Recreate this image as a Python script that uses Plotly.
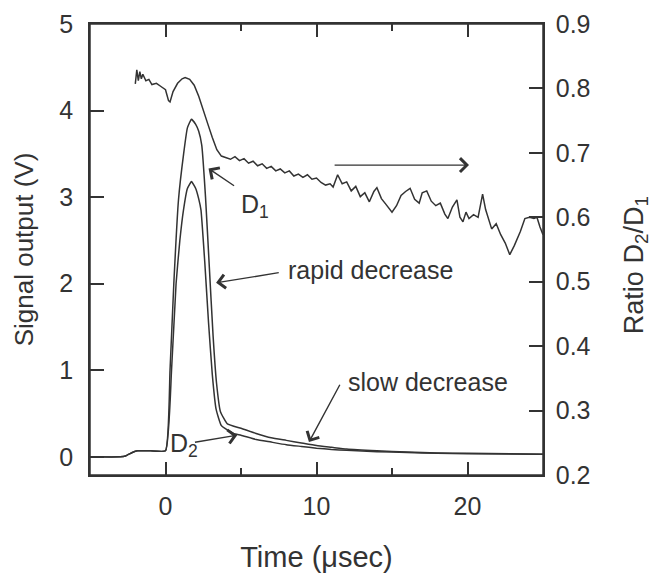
import plotly.graph_objects as go

# signal traces (left axis, volts)
t_d1 = [-5, -3.0, -2.65, -2.2, -1.85, -1.0, 0.0, 0.3, 0.55, 0.86, 1.2, 1.45, 1.72,
        2.0, 2.2, 2.4, 2.65, 2.9, 3.15, 3.38, 3.64, 4.1, 5.0, 6.0, 7.0, 8.0, 9.0, 10, 11, 12,
        14, 16, 18, 20, 25]
v_d1 = [0, 0, 0.01, 0.05, 0.07, 0.07, 0.07, 1.0, 2.0, 2.97, 3.5, 3.8, 3.90,
        3.84, 3.76, 3.6, 3.0, 2.2, 1.4, 0.85, 0.52, 0.38, 0.33, 0.27, 0.22, 0.19, 0.16, 0.13, 0.11, 0.09,
        0.07, 0.055, 0.045, 0.04, 0.03]

t_d2 = [-5, -3.0, -2.65, -2.2, -1.85, -1.0, 0.0, 0.4, 0.7, 0.95, 1.19, 1.45, 1.72,
        2.0, 2.2, 2.35, 2.6, 2.85, 3.1, 3.35, 3.7, 4.5, 5.0, 6.0, 7.0, 8.0, 9.0, 10, 11, 12,
        14, 16, 18, 20, 25]
v_d2 = [0, 0, 0.01, 0.05, 0.07, 0.07, 0.07, 1.0, 2.0, 2.5, 2.85, 3.1, 3.18,
        3.1, 2.98, 2.85, 2.25, 1.55, 0.95, 0.55, 0.36, 0.27, 0.25, 0.2, 0.17, 0.14, 0.12, 0.10, 0.085, 0.075,
        0.06, 0.05, 0.04, 0.035, 0.03]

# ratio D2/D1 (right axis)
t_ratio = [-2.0, -1.9, -1.8, -1.7, -1.6, -1.5, -1.3, -1.1, -0.9, -0.6, -0.3, 0.0, 0.2, 0.3,
           0.5, 0.8, 1.1, 1.3, 1.6, 1.9, 2.2, 2.5, 2.8, 3.1, 3.4, 3.7, 4.0, 4.3, 4.6, 4.9,
           5.2, 5.5, 5.8, 6.1, 6.4, 6.7, 7.0, 7.3, 7.6, 7.9, 8.2, 8.5, 8.8, 9.1, 9.4, 9.7,
           10.0, 10.3, 10.6, 10.9, 11.1, 11.4, 11.7, 12.0, 12.3, 12.6, 12.9, 13.2, 13.5, 13.8,
           14.0, 14.3, 14.6, 15.0, 15.3, 15.6, 15.9, 16.2, 16.5, 16.8, 17.0, 17.3, 17.6, 17.9,
           18.2, 18.5, 18.7, 19.0, 19.3, 19.5, 19.7, 19.9, 20.1, 20.4, 20.7, 21.0, 21.2, 21.4,
           21.6, 21.9, 22.2, 22.5, 22.8, 23.1, 23.5, 23.8, 24.1, 24.4, 24.6, 24.8, 25.0]
ratio = [0.807, 0.829, 0.812, 0.826, 0.815, 0.822, 0.812, 0.814, 0.806, 0.808, 0.803, 0.798, 0.781, 0.779,
         0.795, 0.808, 0.815, 0.817, 0.814, 0.805, 0.788, 0.768, 0.745, 0.724, 0.705, 0.695, 0.693, 0.690, 0.694, 0.688,
         0.691, 0.684, 0.687, 0.680, 0.683, 0.676, 0.679, 0.672, 0.675, 0.669, 0.672, 0.664, 0.667, 0.662, 0.666, 0.659,
         0.661, 0.654, 0.650, 0.652, 0.647, 0.666, 0.652, 0.655, 0.641, 0.648, 0.632, 0.638, 0.624, 0.640,
         0.646, 0.629, 0.620, 0.608, 0.618, 0.634, 0.640, 0.645, 0.628, 0.622, 0.638, 0.641, 0.625, 0.618,
         0.622, 0.605, 0.598, 0.616, 0.627, 0.600, 0.593, 0.608, 0.598, 0.604, 0.600, 0.636, 0.612, 0.596,
         0.582, 0.590, 0.573, 0.560, 0.542, 0.556, 0.578, 0.598, 0.600, 0.598, 0.600, 0.585, 0.573]

ink = '#333333'
familia = 'Liberation Sans, Arial, sans-serif'
fonte = dict(family=familia, size=25, color=ink)

fig = go.Figure()
fig.add_trace(go.Scatter(x=t_d1, y=v_d1, mode='lines',
                         line=dict(color=ink, width=1.5, shape='spline', smoothing=0.4)))
fig.add_trace(go.Scatter(x=t_d2, y=v_d2, mode='lines',
                         line=dict(color=ink, width=1.5, shape='spline', smoothing=0.4)))
fig.add_trace(go.Scatter(x=t_ratio, y=ratio, mode='lines', xaxis='x2', yaxis='y2',
                         line=dict(color=ink, width=1.5)))


def seta(x0, y0, x1, y1):
    fig.add_annotation(x=x1, y=y1, ax=x0, ay=y0, xref='x', yref='y', axref='x', ayref='y',
                       text='', showarrow=True, arrowhead=4, arrowsize=1.9,
                       arrowwidth=1.4, arrowcolor=ink)


def texto(x, y, s):
    fig.add_annotation(x=x, y=y, xref='x', yref='y', text=s, showarrow=False,
                       font=fonte)


seta(4.64, 3.12, 2.85, 3.33)
texto(5.9, 2.9, 'D<sub>1</sub>')
seta(7.6, 2.13, 3.35, 2.01)
texto(13.6, 2.16, 'rapid decrease')
seta(11.1, 3.37, 20.1, 3.37)
seta(11.6, 0.85, 9.5, 0.17)
texto(17.4, 0.87, 'slow decrease')
seta(1.85, 0.165, 4.75, 0.25)
texto(1.25, 0.14, 'D<sub>2</sub>')

# right axis title as a rotated annotation
fig.add_annotation(x=1.205, y=0.465, xref='paper', yref='paper', xanchor='center', yanchor='middle',
                   text='Ratio D<sub>2</sub>/D<sub>1</sub>', textangle=-90, showarrow=False,
                   font=dict(family=familia, size=27, color=ink))

# frame
fig.add_shape(type='rect', xref='paper', yref='paper', x0=0, x1=1, y0=0, y1=1,
              line=dict(color=ink, width=1.5), layer='above')

eixo = dict(ticks='inside', tickwidth=1.5, tickcolor=ink, showline=True, linecolor=ink,
            linewidth=1.5, showgrid=False, zeroline=False, automargin=False,
            tickfont=dict(family=familia, size=25, color=ink))
menores = dict(tickvals=[5, 15], ticks='inside', ticklen=7, tickwidth=1.5, tickcolor=ink)

fig.update_layout(
    width=650, height=565,
    showlegend=False,
    plot_bgcolor='white',
    paper_bgcolor='white',
    margin=dict(l=82, r=115, t=16, b=98),
    font=fonte,
    xaxis=dict(
        eixo, range=[-5, 25], tickvals=[0, 10, 20], ticklen=13, ticklabelstandoff=8,
        minor=menores,
        title=dict(text='Time (μsec)', font=dict(family=familia, size=29, color=ink), standoff=28),
    ),
    xaxis2=dict(
        eixo, range=[-5, 25], tickvals=[0, 10, 20], ticklen=13, overlaying='x', side='top',
        anchor='y2', showticklabels=False, minor=menores,
    ),
    yaxis=dict(
        eixo, range=[-0.21, 5], dtick=1, ticklen=14, ticklabelstandoff=10,
        title=dict(text='Signal output (V)', font=dict(family=familia, size=26, color=ink), standoff=18),
    ),
    yaxis2=dict(
        eixo, range=[0.2, 0.9], dtick=0.1, tickformat='.1f', overlaying='y', side='right',
        anchor='x2', ticklen=14, ticklabelstandoff=6,
    ),
)

fig.write_html("out.html")
